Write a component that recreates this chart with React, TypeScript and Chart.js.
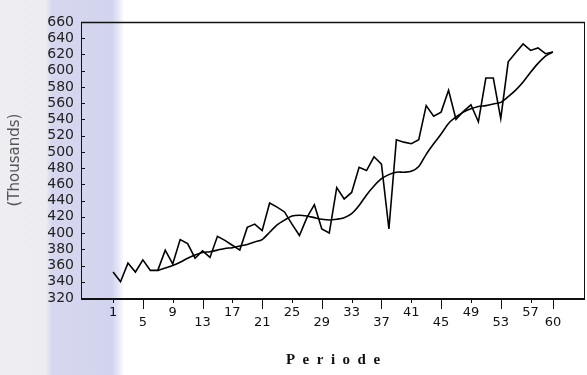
import React, { useEffect, useRef } from 'react';
import { Chart, registerables } from 'chart.js';

Chart.register(...registerables);

const periods = [
  1, 2, 3, 4, 5, 6, 7, 8, 9, 10, 11, 12, 13, 14, 15, 16, 17, 18, 19, 20,
  21, 22, 23, 24, 25, 26, 27, 28, 29, 30, 31, 32, 33, 34, 35, 36, 37, 38, 39, 40,
  41, 42, 43, 44, 45, 46, 47, 48, 49, 50, 51, 52, 53, 54, 55, 56, 57, 58, 59, 60,
];

// Actual series (thousands)
const actual = [
  352, 340, 363, 352, 367, 354, 354, 379, 362, 392,
  387, 369, 378, 370, 396, 391, 385, 379, 407, 411,
  403, 437, 432, 426, 411, 397, 419, 435, 405, 400,
  456, 442, 450, 481, 477, 494, 485, 405, 515, 512,
  510, 515, 557, 544, 549, 576, 540, 550, 558, 537,
  591, 591, 541, 611, 622, 633, 625, 628, 621, 623,
];

// Smoothed / trend series (starts at period 7)
const trend = [
  null, null, null, null, null, null, 354, 357, 360, 364,
  369, 373, 376, 377, 379, 381, 382, 384, 386, 389,
  392, 401, 410, 416, 421, 422, 421, 419, 417, 416,
  417, 419, 424, 434, 447, 458, 467, 472, 475, 475,
  476, 482, 497, 510, 522, 535, 543, 549, 553, 556,
  557, 559, 561, 568, 576, 586, 598, 609, 618, 623,
];

const xTickValues = [1, 5, 9, 13, 17, 21, 25, 29, 33, 37, 41, 45, 49, 53, 57, 60];
const lowerTickValues = [5, 13, 21, 29, 37, 45, 53, 60];
const yMin = 320;
const yMax = 660;
const yStep = 20;

const framePlugin = {
  id: 'frame',
  beforeDatasetsDraw(chart: any) {
    const { ctx, chartArea, scales } = chart;
    const { left, right, top, bottom } = chartArea;
    ctx.save();
    ctx.strokeStyle = '#111';
    ctx.lineWidth = 1;
    ctx.beginPath();
    ctx.moveTo(left + 0.5, top);
    ctx.lineTo(left + 0.5, bottom);
    ctx.stroke();
    ctx.beginPath();
    ctx.moveTo(right - 0.5, top);
    ctx.lineTo(right - 0.5, bottom + 1);
    ctx.stroke();
    ctx.lineWidth = 1.5;
    ctx.beginPath();
    ctx.moveTo(left, top + 0.5);
    ctx.lineTo(right, top + 0.5);
    ctx.stroke();
    ctx.lineWidth = 2;
    ctx.beginPath();
    ctx.moveTo(left, bottom + 1);
    ctx.lineTo(right, bottom + 1);
    ctx.stroke();
    ctx.lineWidth = 1;
    const ys = scales.y;
    for (const t of ys.ticks) {
      const py = Math.round(ys.getPixelForValue(t.value)) + 0.5;
      ctx.beginPath();
      ctx.moveTo(left, py);
      ctx.lineTo(left + 4, py);
      ctx.stroke();
    }
    const xs = scales.x;
    for (const t of xs.ticks) {
      const px = Math.round(xs.getPixelForValue(t.value)) + 0.5;
      const len = lowerTickValues.includes(t.value) ? 10 : 4;
      ctx.beginPath();
      ctx.moveTo(px, bottom + 1);
      ctx.lineTo(px, bottom + 1 + len);
      ctx.stroke();
    }
    ctx.restore();
  },
};

export default function App() {
  const canvasRef = useRef<HTMLCanvasElement | null>(null);

  useEffect(() => {
    const canvas = canvasRef.current;
    if (!canvas) return;
    const chart = new Chart(canvas, {
      type: 'line',
      data: {
        datasets: [
          {
            label: 'Aktual',
            data: periods.map((p, i) => ({ x: p, y: actual[i] })),
            borderColor: '#000',
            borderWidth: 1.6,
            pointRadius: 0,
            tension: 0,
            fill: false,
          },
          {
            label: 'Trend',
            data: periods.map((p, i) => ({ x: p, y: trend[i] })),
            borderColor: '#000',
            borderWidth: 1.6,
            pointRadius: 0,
            tension: 0.3,
            fill: false,
            spanGaps: false,
          },
        ],
      },
      options: {
        animation: false,
        responsive: false,
        devicePixelRatio: 1,
        layout: { padding: { top: 22, right: 2, bottom: 0, left: 0 } },
        plugins: {
          legend: { display: false },
          tooltip: { enabled: false },
        },
        scales: {
          x: {
            type: 'linear',
            min: -3.3,
            max: 64.3,
            afterBuildTicks: (s: any) => {
              s.ticks = xTickValues.map((v) => ({ value: v }));
            },
            afterFit: (s: any) => {
              s.height = 77;
            },
            grid: { display: false, drawTicks: false },
            border: { display: false },
            ticks: {
              autoSkip: false,
              maxRotation: 0,
              minRotation: 0,
              padding: 10,
              color: '#111',
              font: { family: 'DejaVu Sans', size: 13, lineHeight: '10px' },
              callback: (v: any) =>
                lowerTickValues.includes(v) ? ['', String(v)] : String(v),
            },
            title: {
              display: true,
              text: 'P\u2002e\u2002r\u2002i\u2002o\u2002d\u2002e',
              color: '#111',
              font: { family: 'Liberation Serif', size: 15, weight: 'bold' },
              padding: { top: 0, bottom: 6 },
            },
          },
          y: {
            type: 'linear',
            min: yMin,
            max: yMax,
            afterFit: (s: any) => {
              s.width = 81;
            },
            grid: { display: false, drawTicks: false },
            border: { display: false },
            ticks: {
              stepSize: yStep,
              autoSkip: false,
              padding: 7,
              color: '#222',
              font: { family: 'DejaVu Sans', size: 14, lineHeight: 1 },
            },
            title: {
              display: true,
              text: '(Thousands)',
              color: '#555',
              font: { family: 'DejaVu Sans', size: 15 },
              padding: { top: 6, bottom: 0 },
            },
          },
        },
      },
      plugins: [framePlugin],
    });
    return () => chart.destroy();
  }, []);

  return (
    <div
      style={{
        position: 'fixed',
        left: 0,
        top: 0,
        width: 587,
        height: 375,
        background:
          'linear-gradient(to right, #eeeef2 0px, #ececf1 46px, #d6d7ef 52px, #d2d4ed 112px, #e8e9f6 119px, #ffffff 124px)',
      }}
    >
      <canvas ref={canvasRef} width={587} height={375} style={{ display: 'block' }} />
    </div>
  );
}
